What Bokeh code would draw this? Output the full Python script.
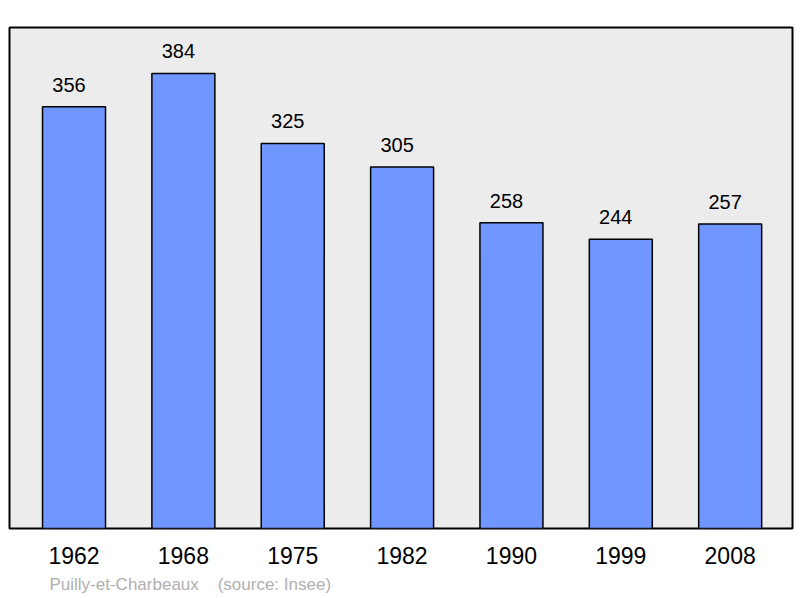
from bokeh.plotting import figure
from bokeh.models import ColumnDataSource, FixedTicker, Range1d, Title
from bokeh.embed import file_html
from bokeh.resources import INLINE
from bokeh.core.properties import value

years = ["1962", "1968", "1975", "1982", "1990", "1999", "2008"]
population = [356, 384, 325, 305, 258, 244, 257]
source_note = "Puilly-et-Charbeaux\u00a0\u00a0\u00a0\u00a0(source: Insee)"

FONT = "Liberation Sans"
idx = list(range(len(years)))
src = ColumnDataSource(dict(x=idx, top=population, label=[str(v) for v in population]))

p = figure(frame_width=783, frame_height=501, output_backend="svg", toolbar_location=None,
           x_range=Range1d(-0.59, 6.57), y_range=Range1d(0, 422.8),
           min_border_left=9, min_border_right=2, min_border_top=27, min_border_bottom=0)

p.background_fill_color = "#ececec"
p.border_fill_color = "white"
p.outline_line_color = "black"
p.outline_line_width = 2
p.xgrid.visible = False
p.ygrid.visible = False
p.yaxis.visible = False

p.vbar(x="x", top="top", width=0.576, bottom=0, source=src,
       fill_color="#7097ff", line_color="black", line_width=1.5)

p.text(x="x", y="top", text="label", source=src, text_align="center",
       text_baseline="middle", x_offset=-5, y_offset=-22, text_font=value(FONT),
       text_font_size="20px", text_color="black")

ax = p.xaxis[0]
ax.ticker = FixedTicker(ticks=idx)
ax.major_label_overrides = {i: y for i, y in enumerate(years)}
ax.axis_line_color = None
ax.major_tick_line_color = None
ax.minor_tick_line_color = None
ax.major_tick_out = 0
ax.major_tick_in = 0
ax.major_label_standoff = 18
ax.major_label_text_font = FONT
ax.major_label_text_font_size = "23px"
ax.major_label_text_color = "black"

note = Title(text=source_note, align="left", offset=40, standoff=0,
             padding=(0, 0, 6, 0),
             text_font=FONT, text_font_size="17px", text_color="#b0b0b0",
             text_font_style="normal")
p.add_layout(note, "below")

open("out.html", "w").write(file_html(p, INLINE))
